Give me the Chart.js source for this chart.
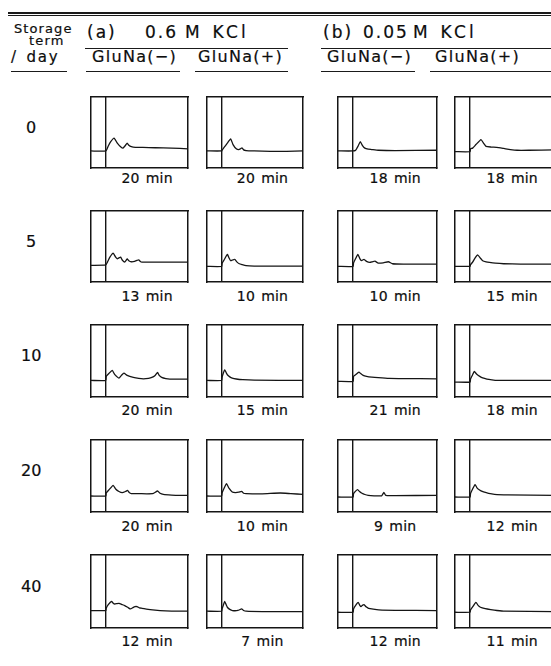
<!DOCTYPE html>
<html><head><meta charset="utf-8">
<script src="https://cdn.jsdelivr.net/npm/chart.js@4"></script>
<style>
html,body{margin:0;padding:0;background:#fff;}
#fig{position:relative;width:551px;height:666px;overflow:hidden;font-family:"DejaVu Sans",sans-serif;color:#0d0d0d;}
.t{position:absolute;white-space:pre;line-height:1;transform:translateY(-50%);-webkit-text-stroke:0.2px #0d0d0d;}
.rule{position:absolute;background:#1a1a1a;}
.panel{position:absolute;}
</style></head><body><div id="fig"></div>
<script>
// ---------------- data ----------------
const storageDays = ['0', '5', '10', '20', '40'];
const saltLabels = [['(a)', '0.6', 'M KCl'], ['(b)', '0.05', 'M KCl']];
const gluNaLabels = ['GluNa(\u2212)', 'GluNa(+)', 'GluNa(\u2212)', 'GluNa(+)'];
const elutionMinutes = [
  [20, 20, 18, 18],
  [13, 10, 10, 15],
  [20, 15, 21, 18],
  [20, 10, 9, 12],
  [12, 7, 12, 11]
];
// traces: [time (relative), signal (% of box height)]
const day0_aMinus = [[-18,24],[0,24],[3,31],[6,37],[10,42],[14,35],[18,30],[21,28],[24,32],[26,35],[28,32],[31,30],[36,29],[45,29],[60,28.5],[80,28],[100,27]];
const day0_aPlus  = [[-18,24],[0,24],[0.5,25],[3,29],[7,35],[11,41],[14,33],[18,27],[21,26],[23,27],[25,28.5],[27,25.5],[30,24.5],[40,24],[60,23.5],[80,23.5],[100,24]];
const day0_bMinus = [[-18,24],[0,24],[3,25],[6,31],[8.6,37],[11,32],[14,28],[18,26.5],[22,26],[30,25],[50,24.5],[100,25]];
const day0_bPlus  = [[-18,23],[0,23],[0.5,27],[3,28],[7,33],[13,40],[16,35],[19,30.5],[25,29.5],[31.5,29],[40,27.5],[48,26],[56,25],[70,25],[100,25.5]];

const day5_aMinus = [[-18,23.4],[0,24],[2,28],[5,35],[9,40.6],[12,35],[14,32.7],[16,34],[18,35],[20,31],[23,28],[25,31],[26,32.7],[28,30],[31,28.5],[35,29],[38,30.5],[40,31.3],[42,29],[44,28],[60,28],[100,28]];
const day5_aPlus  = [[-18,22],[0,22],[0.5,26],[3,31],[7,39],[9,34],[11,30],[13.5,31],[16,32],[19,28],[21.7,25.7],[25,24.5],[30,23],[40,22.5],[100,22.3]];
const day5_bMinus = [[-18,22],[0,22],[0.5,26.6],[3,33],[5.7,39],[8,33],[10,30],[13,32],[16,29],[20,27.6],[23,28.5],[26,29.4],[30,26.6],[36,27],[42,28.5],[47,25.7],[60,25.2],[100,25.2]];
const day5_bPlus  = [[-18,22],[0,22],[0.5,24.3],[3,28],[6,34],[9,38.3],[12,34],[15,30],[19,28.5],[23,27.6],[30,26.5],[40,25.7],[60,25.2],[100,25.2]];

const day10_aMinus = [[-18,23],[0,23],[0.5,28.6],[4,33],[7.8,36.9],[11,31],[16,26.3],[19,30],[22,33.2],[26,30],[33.5,27.2],[40,25.8],[46,25.3],[52,26],[56,27.2],[60,30],[63,34.1],[65,30],[68,27.2],[73,25.5],[78,24.9],[100,24.9]];
const day10_aPlus  = [[-18,23],[0,23],[0.5,27],[2,33],[3.75,37.8],[5.5,34],[7,30.9],[10,28],[13,26.3],[18,25],[26,24],[40,23.3],[100,23]];
const day10_bMinus = [[-18,21.7],[0,21.7],[0.5,28.6],[3,31],[7,34.6],[9,32.5],[12,30],[16,28.7],[22.4,27.6],[30,26.8],[43,25.8],[60,25.5],[100,25.3]];
const day10_bPlus  = [[-18,20.7],[0,20.7],[0.5,25],[3,31],[5,35.5],[8,31.5],[11.5,28.6],[15,26.5],[20,24.9],[26,23.8],[32,23],[100,23]];

const day20_aMinus = [[-18,22.2],[0,22.2],[0.5,26.4],[4,31],[9,37],[12,32],[16,28.5],[20,26.9],[24,28.5],[26.5,30],[28.5,27],[31,25.5],[40,25.5],[50,25.2],[58,25.8],[63,29.2],[66,26],[70,24.5],[80,23.5],[90,23],[100,23]];
const day20_aPlus  = [[-18,22.2],[0,22.2],[0.5,26.4],[3,33],[6,39.4],[9,33],[13,27.8],[17,27],[21,27.5],[24.6,28.7],[27,26],[30,25.5],[50,25.3],[72,26.4],[85,25.5],[100,24.5]];
const day20_bMinus = [[-18,20.8],[0,20.8],[0.5,25.5],[3,29],[5.3,31],[8,28],[10,26.4],[14,24.3],[18,23.1],[25,22.5],[34,22.5],[36.7,27.3],[39,23],[50,22.8],[100,23]];
const day20_bPlus  = [[-18,20.8],[0,20.8],[0.5,25.5],[3,32],[6,38],[8,34],[10,31.5],[13,29.3],[16,27.8],[22,25.8],[29,24.5],[45,23.8],[100,23.1]];

const day40_aMinus = [[-18,23.9],[0,23.9],[0.5,27],[3,32],[7,36.5],[9,34],[11,32.9],[13.5,33.5],[16,33.8],[20,32],[23,30.6],[27,28],[30,26.1],[33,28],[35.5,29.3],[38,29.3],[41,27.5],[44,27],[54,25.2],[66,23.9],[80,23.2],[100,23]];
const day40_aPlus  = [[-18,23],[0,23],[0.5,26.1],[2,31],[3.75,36.5],[5.5,32],[7,28.4],[10,25.5],[13.3,23.9],[20,24],[24.6,26.1],[27,24],[30,23],[50,22.5],[100,22.5]];
const day40_bMinus = [[-18,21.6],[0,21.6],[0.5,26.1],[3,31],[6,35.1],[8,31],[9.4,29.3],[11,31],[13,32],[15.5,29],[18.4,27],[24,25.8],[30.6,24.8],[50,24.2],[100,23.9]];
const day40_bPlus  = [[-18,21.6],[0,21.6],[0.5,24.8],[3,29],[7,35.1],[9.5,31],[12.3,28.4],[18,26.5],[24.6,25.2],[32,24],[41,23],[100,22.5]];

const traces = [
  [day0_aMinus, day0_aPlus, day0_bMinus, day0_bPlus],
  [day5_aMinus, day5_aPlus, day5_bMinus, day5_bPlus],
  [day10_aMinus, day10_aPlus, day10_bMinus, day10_bPlus],
  [day20_aMinus, day20_aPlus, day20_bMinus, day20_bPlus],
  [day40_aMinus, day40_aPlus, day40_bMinus, day40_bPlus]
];
const timeMin = -18, timeMax = 100, signalMin = 0, signalMax = 100, injectionTime = 0;

// ---------------- layout ----------------
const fig = document.getElementById('fig');
function text(str, x, yc, size, opts) {
  opts = opts || {};
  const d = document.createElement('div');
  d.className = 't';
  d.textContent = str;
  d.style.fontSize = size + 'px';
  d.style.top = yc + 'px';
  if (opts.ls !== undefined) d.style.letterSpacing = opts.ls + 'px';
  if (opts.ws !== undefined) d.style.wordSpacing = opts.ws + 'px';
  fig.appendChild(d);
  if (opts.center) {
    d.style.left = (x - d.offsetWidth / 2) + 'px';
  } else {
    d.style.left = x + 'px';
  }
  return d;
}
function rule(x1, x2, y, h) {
  const d = document.createElement('div');
  d.className = 'rule';
  d.style.left = x1 + 'px'; d.style.width = (x2 - x1) + 'px';
  d.style.top = y + 'px'; d.style.height = h + 'px';
  fig.appendChild(d);
}

// top double rule
rule(8, 551, 12, 2);
rule(8, 551, 14.8, 1);

// header
text('Storage', 14, 27.5, 13, {ls: 1.1});
text('term', 47, 39.5, 13, {ls: 1.2, center: true});
text('/ day', 11, 56.5, 15, {ls: 1.8, ws: 2});
rule(11, 67, 71, 1.3);

const saltX = [[87, 145, 185], [323, 363, 413]];
saltLabels.forEach((parts, i) => {
  parts.forEach((p, j) => text(p, saltX[i][j], 32, 17, {ls: j === 2 ? 3.2 : 2, ws: 1}));
});
rule(85, 288, 47.5, 1.3);
rule(321, 551, 47.5, 1.3);

const gluX = [92, 198, 327, 435];
const gluRule = [[86, 180], [195, 288], [321, 415], [430, 551]];
gluNaLabels.forEach((g, i) => {
  text(g, gluX[i], 56.5, 16, {ls: 1.3});
  rule(gluRule[i][0], gluRule[i][1], 71, 1.3);
});

// panels
const colLeft = [91, 207, 338, 455];
const colWidth = [97, 96, 99, 99];
const rowTop = [97, 211, 325, 440, 555];
const rowHeight = [71, 71, 72, 72, 73];
const labelGap = [10, 13.5, 13, 14, 13];

storageDays.forEach((day, r) => {
  text(day, 31, rowTop[r] + rowHeight[r] / 2 - 5, 16, {center: true});
});

const LW = 1.5;
for (let r = 0; r < 5; r++) {
  for (let c = 0; c < 4; c++) {
    const w = colWidth[c], h = rowHeight[r];
    const holder = document.createElement('div');
    holder.className = 'panel';
    holder.style.left = (colLeft[c] - 2) + 'px';
    holder.style.top = (rowTop[r] - 2) + 'px';
    const cv = document.createElement('canvas');
    cv.width = w + 4; cv.height = h + 4;
    cv.style.width = (w + 4) + 'px'; cv.style.height = (h + 4) + 'px';
    holder.appendChild(cv);
    fig.appendChild(holder);
    const hiddenAxis = (pos, isX) => ({
      type: 'linear', position: pos, display: true,
      min: isX ? timeMin : signalMin, max: isX ? timeMax : signalMax,
      ticks: {display: false}, grid: {display: false, drawTicks: false},
      border: {display: true, color: '#151515', width: LW}
    });
    const xAxis = {
      type: 'linear', position: 'bottom', min: timeMin, max: timeMax,
      afterBuildTicks: (axis) => { axis.ticks = [{value: injectionTime}]; },
      ticks: {display: false},
      grid: {display: true, drawTicks: false, color: '#151515', lineWidth: 1.4},
      border: {display: true, color: '#151515', width: LW}
    };
    new Chart(cv, {
      type: 'line',
      data: {
        datasets: [{
          data: traces[r][c].map(p => ({x: p[0], y: p[1]})),
          borderColor: '#151515', borderWidth: 1.3, pointRadius: 0,
          tension: 0.15, fill: false
        }]
      },
      options: {
        responsive: false, animation: false, devicePixelRatio: 1, events: [],
        layout: {padding: 2},
        plugins: {legend: {display: false}, tooltip: {enabled: false}, title: {display: false}},
        scales: {
          x: xAxis,
          x2: hiddenAxis('top', true),
          y: hiddenAxis('left', false),
          y2: hiddenAxis('right', false)
        }
      }
    });
    // elution time label, centred on the region after injection
    const innerX = colLeft[c] + w * (injectionTime - timeMin) / (timeMax - timeMin);
    const cx = (innerX + colLeft[c] + w) / 2;
    text(elutionMinutes[r][c] + ' min', cx, rowTop[r] + h + labelGap[r], 14, {ls: 0.2, ws: 1.5, center: true});
  }
}
</script>
</body></html>
